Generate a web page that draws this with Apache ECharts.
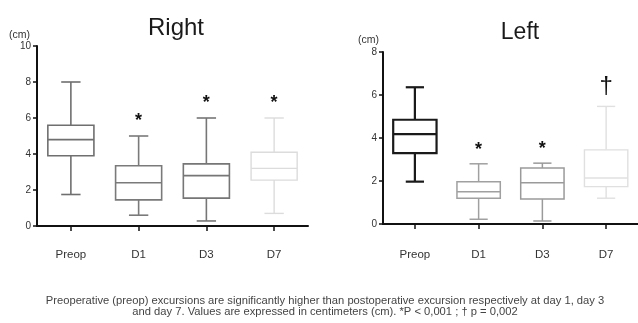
<!DOCTYPE html>
<html>
<head>
<meta charset="utf-8">
<script src="https://cdn.jsdelivr.net/npm/echarts@6/dist/echarts.min.js"></script>
<style>
  html, body { margin: 0; padding: 0; background: #fff; }
  #chart { width: 638px; height: 323px; }
</style>
</head>
<body>
<div id="chart"></div>
<script>
// Diaphragmatic excursion (cm), box summaries: [min, Q1, median, Q3, max]
var categories = ['Preop', 'D1', 'D3', 'D7'];
var rightBoxes = [
  [1.75, 3.9, 4.8, 5.6, 8.0],
  [0.6, 1.45, 2.4, 3.35, 5.0],
  [0.28, 1.55, 2.8, 3.45, 6.0],
  [0.7, 2.55, 3.2, 4.1, 6.0]
];
var leftBoxes = [
  [1.97, 3.3, 4.18, 4.85, 6.36],
  [0.22, 1.2, 1.5, 1.97, 2.8],
  [0.14, 1.16, 1.92, 2.6, 2.83],
  [1.2, 1.74, 2.14, 3.45, 5.47]
];
// Significance marks drawn above each box
var rightMarks = ['', '*', '*', '*'];
var leftMarks = ['', '*', '*', '\u2020'];
var rightTicks = [0, 2, 4, 6, 8, 10];
var leftTicks = [0, 2, 4, 6, 8];

// Stroke colours per box
var rightColors = ['#6f6f6f', '#7a7a7a', '#767676', '#dcdcdc'];
var leftColors = ['#1a1a1a', '#a0a0a0', '#9a9a9a', '#e0e0e0'];
var rightWidths = [1.6, 1.6, 1.6, 1.4];
var leftWidths = [2.2, 1.5, 1.5, 1.4];

var FONT = 'Liberation Sans, Arial, sans-serif';

function toData(boxes, marks) {
  return boxes.map(function (b, i) {
    return [i, b[0], b[1], b[2], b[3], b[4], marks[i]];
  });
}

function makeRenderer(colors, widths, markGap) {
  return function (params, api) {
    var i = api.value(0);
    var cx = api.coord([i, 0])[0];
    var yMin = api.coord([i, api.value(1)])[1];
    var yQ1 = api.coord([i, api.value(2)])[1];
    var yMed = api.coord([i, api.value(3)])[1];
    var yQ3 = api.coord([i, api.value(4)])[1];
    var yMax = api.coord([i, api.value(5)])[1];
    var band = api.size([1, 0])[0];
    var bw = band * 0.68;
    var cw = bw * 0.42;
    var st = { stroke: colors[i], lineWidth: widths[i], fill: null };
    var children = [
      { type: 'line', shape: { x1: cx, y1: yQ3, x2: cx, y2: yMax }, style: st },
      { type: 'line', shape: { x1: cx, y1: yQ1, x2: cx, y2: yMin }, style: st },
      { type: 'line', shape: { x1: cx - cw / 2, y1: yMax, x2: cx + cw / 2, y2: yMax }, style: st },
      { type: 'line', shape: { x1: cx - cw / 2, y1: yMin, x2: cx + cw / 2, y2: yMin }, style: st },
      { type: 'rect', shape: { x: cx - bw / 2, y: yQ3, width: bw, height: yQ1 - yQ3 }, style: { stroke: colors[i], lineWidth: widths[i], fill: '#fff' } },
      { type: 'line', shape: { x1: cx - bw / 2, y1: yMed, x2: cx + bw / 2, y2: yMed }, style: st }
    ];
    var mark = api.value(6);
    if (mark) {
      var isDagger = mark !== '*';
      children.push({
        type: 'text',
        style: {
          x: cx,
          y: yMax - (isDagger ? markGap.dagger : markGap.star),
          text: mark,
          fill: '#111',
          font: isDagger ? '24px ' + FONT : 'bold 18px ' + FONT,
          align: 'center',
          verticalAlign: 'middle'
        }
      });
    }
    return { type: 'group', children: children };
  };
}

function yAxis(gridIndex, max) {
  return {
    gridIndex: gridIndex,
    type: 'value',
    min: 0,
    max: max,
    interval: 2,
    axisLine: { show: true, lineStyle: { color: '#111', width: 2 } },
    axisTick: { show: true, length: 4, lineStyle: { color: '#111', width: 1.5 } },
    axisLabel: { color: '#333', fontSize: 10, fontFamily: FONT, margin: 6 },
    splitLine: { show: false }
  };
}

function xAxis(gridIndex, margin) {
  return {
    gridIndex: gridIndex,
    type: 'category',
    data: categories,
    axisLine: { show: true, lineStyle: { color: '#111', width: 2 } },
    axisTick: { show: true, alignWithLabel: true, length: 5, lineStyle: { color: '#111', width: 1.5 } },
    axisLabel: { color: '#333', fontSize: 11.5, fontFamily: FONT, margin: margin },
    splitLine: { show: false }
  };
}

var chart = echarts.init(document.getElementById('chart'), null, { renderer: 'canvas' });
chart.setOption({
  backgroundColor: '#fff',
  animation: false,
  title: [
    { text: 'Right', left: 171, top: 11, textAlign: 'center', textStyle: { fontFamily: FONT, fontSize: 24, fontWeight: 'normal', color: '#1a1a1a' } },
    { text: 'Left', left: 515, top: 16, textAlign: 'center', textStyle: { fontFamily: FONT, fontSize: 23, fontWeight: 'normal', color: '#1a1a1a' } },
    { text: '(cm)', left: 4, top: 25, textStyle: { fontFamily: FONT, fontSize: 10.5, fontWeight: 'normal', color: '#333' } },
    { text: '(cm)', left: 353, top: 30, textStyle: { fontFamily: FONT, fontSize: 10.5, fontWeight: 'normal', color: '#333' } },
    {
      text: 'Preoperative (preop) excursions are significantly higher than postoperative excursion respectively at day 1, day 3\nand day 7. Values are expressed in centimeters (cm). *P < 0,001 ; \u2020 p = 0,002',
      left: 320, top: 290, textAlign: 'center',
      textStyle: { fontFamily: FONT, fontSize: 11.2, lineHeight: 11, fontWeight: 'normal', color: '#444' }
    }
  ],
  grid: [
    { left: 37, top: 46, width: 271, height: 180 },
    { left: 383, top: 52, width: 256, height: 172 }
  ],
  xAxis: [xAxis(0, 23), xAxis(1, 25)],
  yAxis: [yAxis(0, rightTicks[rightTicks.length - 1]), yAxis(1, leftTicks[leftTicks.length - 1])],
  series: [
    {
      type: 'custom', xAxisIndex: 0, yAxisIndex: 0,
      encode: { x: 0, y: [1, 2, 3, 4, 5] },
      renderItem: makeRenderer(rightColors, rightWidths, { star: 15, dagger: 20 }),
      data: toData(rightBoxes, rightMarks)
    },
    {
      type: 'custom', xAxisIndex: 1, yAxisIndex: 1,
      encode: { x: 0, y: [1, 2, 3, 4, 5] },
      renderItem: makeRenderer(leftColors, leftWidths, { star: 14, dagger: 20 }),
      data: toData(leftBoxes, leftMarks)
    }
  ]
});
</script>
</body>
</html>
